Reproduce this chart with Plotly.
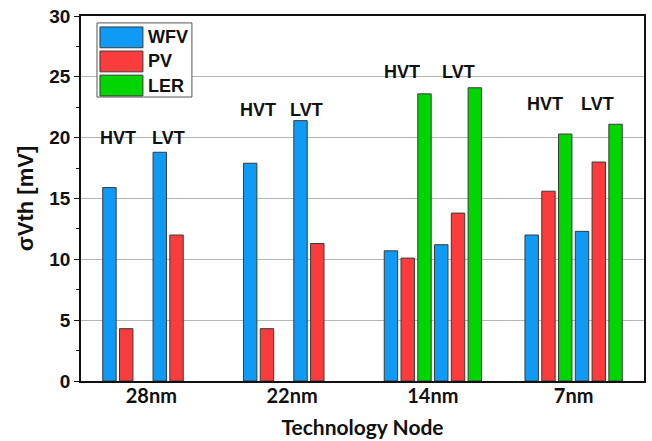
import plotly.graph_objects as go

# Technology nodes and variability sources
nodes = ["28nm", "22nm", "14nm", "7nm"]
sources = ["WFV", "PV", "LER"]

# sigma Vth [mV] per node, for the HVT and LVT devices
hvt_wfv = [15.9, 17.9, 10.7, 12.0]
hvt_pv = [4.3, 4.3, 10.1, 15.6]
hvt_ler = [None, None, 23.6, 20.3]
lvt_wfv = [18.8, 21.4, 11.2, 12.3]
lvt_pv = [12.0, 11.3, 13.8, 18.0]
lvt_ler = [None, None, 24.1, 21.1]

colors = {"WFV": "#0f9af5", "PV": "#fb3c3c", "LER": "#00d500"}
outline = "#3a3a3a"

series = [
    ("HVT", "WFV", hvt_wfv), ("HVT", "PV", hvt_pv), ("HVT", "LER", hvt_ler),
    ("LVT", "WFV", lvt_wfv), ("LVT", "PV", lvt_pv), ("LVT", "LER", lvt_ler),
]

fig = go.Figure()
for vt, src, vals in series:
    fig.add_trace(go.Bar(
        x=nodes, y=vals, name=f"{vt} {src}",
        marker=dict(color=colors[src], line=dict(color=outline, width=1)),
        showlegend=False,
    ))

# HVT / LVT labels above each bar group: (node index, x offsets, y)
label_font = dict(family="Liberation Sans, Arial", size=18, color="#111")
vt_labels = [
    (0, -0.238, 0.122, 20.0),
    (1, -0.245, 0.103, 22.3),
    (2, -0.220, 0.184, 25.4),
    (3, -0.205, 0.169, 22.8),
]
for i, dh, dl, yy in vt_labels:
    fig.add_annotation(x=i + dh, y=yy, xref="x", yref="y", text="<b>HVT</b>",
                       showarrow=False, font=label_font, yanchor="middle")
    fig.add_annotation(x=i + dl, y=yy, xref="x", yref="y", text="<b>LVT</b>",
                       showarrow=False, font=label_font, yanchor="middle")

# Legend drawn as a framed box with large swatches
fig.add_shape(type="rect", xref="paper", yref="paper",
              x0=0.0284, x1=0.197, y0=0.778, y1=0.981,
              line=dict(color="#555", width=1), fillcolor="white")
row_tops = [0.970, 0.904, 0.838]
for src, top in zip(sources, row_tops):
    fig.add_shape(type="rect", xref="paper", yref="paper",
                  x0=0.0337, x1=0.110, y0=top - 0.057, y1=top,
                  line=dict(color=outline, width=1), fillcolor=colors[src])
    fig.add_annotation(x=0.116, y=top - 0.0285, xref="paper", yref="paper",
                       text=f"<b>{src}</b>", showarrow=False, xanchor="left",
                       yanchor="middle", font=label_font)

tick_font = dict(family="Liberation Sans, Arial", size=19, color="#111")
fig.update_layout(
    width=652, height=441,
    margin=dict(l=81, r=8, t=16, b=60, autoexpand=False),
    paper_bgcolor="white", plot_bgcolor="white",
    barmode="group", bargap=0.285, bargroupgap=0.2,
    xaxis=dict(
        range=[-0.5, 3.5], showline=True, linecolor="#111", linewidth=2,
        mirror=True, ticks="", showgrid=False, ticklabelstandoff=-4,
        automargin=False,
        tickfont=dict(family="Lato", size=20, color="#111"),
        tickprefix="<b>", ticksuffix="</b>",
        title=dict(text="<b>Technology Node</b>", standoff=14,
                   font=dict(family="Lato", size=21, color="#111")),
    ),
    yaxis=dict(
        range=[0, 30], dtick=5, showline=True, linecolor="#111", linewidth=1.5,
        mirror=True, ticks="outside", ticklen=5, tickcolor="#111",
        automargin=False,
        minor=dict(dtick=2.5, ticks="outside", ticklen=3, tickcolor="#111", showgrid=False),
        showgrid=True, gridcolor="#b4b4b4", gridwidth=1, zeroline=False,
        tickfont=tick_font, tickprefix="<b>", ticksuffix="</b>",
        title=dict(text="<b>σVth [mV]</b>", standoff=10,
                   font=dict(family="Liberation Sans, Arial", size=22, color="#111")),
    ),
    yaxis2=dict(
        range=[0, 30], dtick=5, overlaying="y", side="right", anchor="x",
        showticklabels=False, ticks="inside", ticklen=5, tickcolor="#111",
        minor=dict(dtick=2.5, ticks="inside", ticklen=4, tickcolor="#111"),
        showgrid=False, zeroline=False, showline=False,
    ),
)

fig.write_html("out.html")
